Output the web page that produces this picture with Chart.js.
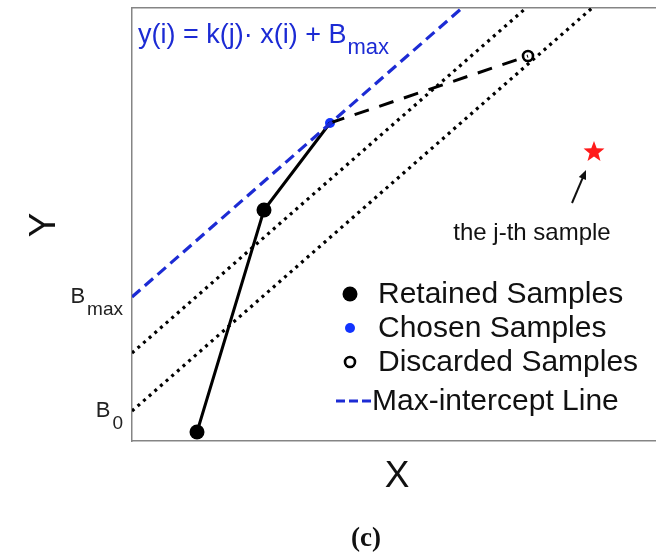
<!DOCTYPE html>
<html>
<head>
<meta charset="utf-8">
<script src="https://cdn.jsdelivr.net/npm/chart.js@4.4.1/dist/chart.umd.min.js"></script>
<style>
  html, body { margin: 0; padding: 0; background: #fff; overflow: hidden; }
  #wrap { width: 656px; height: 554px; position: relative; }
</style>
</head>
<body>
<div id="wrap"><canvas id="c"></canvas></div>
<script>
// ---- data (in plot units) ----
const retainedX = [65, 132];
const retainedY = [9, 231];
const chosenX = [198];
const chosenY = [318];
const discardedX = [396];
const discardedY = [385];
const jthX = [462];
const jthY = [289];
const maxLineX = [0, 330];
const maxLineY = [144, 433];
const boundLine1X = [0, 394];
const boundLine1Y = [88, 433];
const boundLine0X = [0, 460];
const boundLine0Y = [30, 433];
const yTickValues = [144, 30];
const yTickMain = ['B', 'B'];
const yTickSub = ['max', '0'];
const legendLabels = ['Retained Samples', 'Chosen Samples', 'Discarded Samples', 'Max-intercept Line'];
const equationMain = 'y(i) = k(j)\u00B7 x(i) + B';
const equationSub = 'max';
const annotationText = 'the j-th sample';
const arrowFrom = [440, 238];
const arrowTo = [454, 271];
const xTitle = 'X';
const yTitle = 'Y';
const caption = '(c)';

const BLUE = '#1c2bd4';
const BLUE_PT = '#1133ff';
const pts = (xs, ys) => xs.map((x, i) => ({ x, y: ys[i] }));

// filled red star as a point style
function starCanvas(r, color) {
  const c = document.createElement('canvas');
  c.width = c.height = 2 * r + 2;
  const g = c.getContext('2d');
  g.fillStyle = color;
  g.beginPath();
  for (let i = 0; i < 10; i++) {
    const rad = i % 2 === 0 ? r : r * 0.42;
    const a = -Math.PI / 2 + i * Math.PI / 5;
    const px = r + 1 + rad * Math.cos(a), py = r + 1 + rad * Math.sin(a);
    i === 0 ? g.moveTo(px, py) : g.lineTo(px, py);
  }
  g.closePath();
  g.fill();
  return c;
}

const solidPath = pts(retainedX.concat(chosenX), retainedY.concat(chosenY));
const dashedPath = pts(chosenX.concat(discardedX), chosenY.concat(discardedY));

const datasets = [
  { label: 'bound0', data: pts(boundLine0X, boundLine0Y), showLine: true, borderColor: '#000', borderWidth: 3.2, borderDash: [3, 4.5], pointRadius: 0 },
  { label: 'bound1', data: pts(boundLine1X, boundLine1Y), showLine: true, borderColor: '#000', borderWidth: 3.2, borderDash: [3, 4.5], pointRadius: 0 },
  { label: legendLabels[3], data: pts(maxLineX, maxLineY), showLine: true, borderColor: BLUE, borderWidth: 3.2, borderDash: [11, 6], pointRadius: 0 },
  { label: 'path', data: solidPath, showLine: true, borderColor: '#000', borderWidth: 3, pointRadius: 0 },
  { label: 'dashedPath', data: dashedPath, showLine: true, borderColor: '#000', borderWidth: 3, borderDash: [15, 11], pointRadius: 0 },
  { label: legendLabels[0], data: pts(retainedX, retainedY), pointRadius: 7.5, pointBackgroundColor: '#000', pointBorderColor: '#000', pointBorderWidth: 0, showLine: false },
  { label: legendLabels[1], data: pts(chosenX, chosenY), pointRadius: 5, pointBackgroundColor: BLUE_PT, pointBorderColor: BLUE_PT, pointBorderWidth: 0, showLine: false },
  { label: legendLabels[2], data: pts(discardedX, discardedY), pointRadius: 5, pointBackgroundColor: '#fff', pointBorderColor: '#000', pointBorderWidth: 2.6, showLine: false },
  { label: 'jth', data: pts(jthX, jthY), pointStyle: starCanvas(11, '#ff1a1a'), pointRadius: 11, showLine: false }
];

const decor = {
  id: 'decor',
  afterDatasetsDraw(chart) {
    const ctx = chart.ctx;
    const xs = chart.scales.x, ys = chart.scales.y;
    const ca = chart.chartArea;
    ctx.save();
    ctx.textBaseline = 'alphabetic';

    // equation
    ctx.fillStyle = BLUE;
    ctx.font = '27px "Liberation Sans", Arial, sans-serif';
    ctx.textAlign = 'left';
    const ex = ca.left + 6, ey = ca.top + 35;
    ctx.fillText(equationMain, ex, ey);
    const w = ctx.measureText(equationMain).width;
    ctx.font = '22px "Liberation Sans", Arial, sans-serif';
    ctx.fillText(equationSub, ex + w + 1, ey + 11);

    // y tick labels with subscripts
    ctx.fillStyle = '#222';
    yTickValues.forEach((v, i) => {
      const py = ys.getPixelForValue(v);
      const sub = yTickSub[i];
      ctx.font = '19px "Liberation Sans", Arial, sans-serif';
      const sw = ctx.measureText(sub).width;
      ctx.font = '22px "Liberation Sans", Arial, sans-serif';
      const mw = ctx.measureText(yTickMain[i]).width;
      const right = ca.left - 9;
      ctx.textAlign = 'left';
      ctx.fillText(yTickMain[i], right - sw - mw - 2, py + 6);
      ctx.font = '19px "Liberation Sans", Arial, sans-serif';
      ctx.fillText(sub, right - sw, py + 18);
    });

    // annotation text + arrow
    ctx.fillStyle = '#111';
    ctx.font = '24px "Liberation Sans", Arial, sans-serif';
    ctx.textAlign = 'center';
    ctx.fillText(annotationText, xs.getPixelForValue(400), ys.getPixelForValue(209) + 8);
    const ax0 = xs.getPixelForValue(arrowFrom[0]), ay0 = ys.getPixelForValue(arrowFrom[1]);
    const ax1 = xs.getPixelForValue(arrowTo[0]), ay1 = ys.getPixelForValue(arrowTo[1]);
    const ang = Math.atan2(ay1 - ay0, ax1 - ax0);
    ctx.strokeStyle = '#111';
    ctx.lineWidth = 2;
    ctx.beginPath();
    ctx.moveTo(ax0, ay0);
    ctx.lineTo(ax1 - 6 * Math.cos(ang), ay1 - 6 * Math.sin(ang));
    ctx.stroke();
    ctx.beginPath();
    ctx.moveTo(ax1, ay1);
    ctx.lineTo(ax1 - 10 * Math.cos(ang - 0.4), ay1 - 10 * Math.sin(ang - 0.4));
    ctx.lineTo(ax1 - 10 * Math.cos(ang + 0.4), ay1 - 10 * Math.sin(ang + 0.4));
    ctx.closePath();
    ctx.fillStyle = '#111';
    ctx.fill();

    // legend
    const ds = chart.data.datasets;
    const rows = [
      { d: ds[5], y: 294 },
      { d: ds[6], y: 328 },
      { d: ds[7], y: 362 },
      { d: ds[2], y: 401 }
    ];
    const mx = 350, tx = 378;
    rows.forEach((r, i) => {
      const d = r.d;
      if (i < 3) {
        ctx.beginPath();
        ctx.arc(mx, r.y, d.pointRadius, 0, Math.PI * 2);
        ctx.fillStyle = d.pointBackgroundColor;
        ctx.fill();
        if (d.pointBorderWidth) {
          ctx.lineWidth = d.pointBorderWidth;
          ctx.strokeStyle = d.pointBorderColor;
          ctx.stroke();
        }
      } else {
        ctx.save();
        ctx.strokeStyle = d.borderColor;
        ctx.lineWidth = 3;
        ctx.setLineDash([9, 4]);
        ctx.beginPath();
        ctx.moveTo(336, r.y);
        ctx.lineTo(372, r.y);
        ctx.stroke();
        ctx.restore();
      }
      ctx.fillStyle = '#111';
      ctx.font = '30px "Liberation Sans", Arial, sans-serif';
      ctx.textAlign = 'left';
      ctx.textBaseline = 'middle';
      ctx.fillText(d.label, i === 3 ? 372 : tx, r.y + 1);
    });
    ctx.textBaseline = 'alphabetic';

    // axis titles
    ctx.fillStyle = '#111';
    ctx.font = '37px "Liberation Sans", Arial, sans-serif';
    ctx.textAlign = 'center';
    ctx.fillText(xTitle, 397, 487);
    ctx.save();
    ctx.translate(55, 225);
    ctx.rotate(-Math.PI / 2);
    ctx.fillText(yTitle, 0, 0);
    ctx.restore();

    // caption
    ctx.font = 'bold 27px "Liberation Serif", "Times New Roman", serif';
    ctx.fillText(caption, 366, 546);
    ctx.restore();
  }
};

const axisCommon = {
  type: 'linear',
  ticks: { display: false },
  grid: { display: false, drawTicks: false },
  border: { display: true, color: '#858585', width: 1.5 }
};

new Chart(document.getElementById('c'), {
  type: 'scatter',
  data: { datasets },
  options: {
    animation: false,
    responsive: true,
    maintainAspectRatio: false,
    layout: { autoPadding: false, padding: { left: 132, top: 8, right: 0, bottom: 113 } },
    plugins: { legend: { display: false }, tooltip: { enabled: false } },
    scales: {
      x: Object.assign({}, axisCommon, { min: 0, max: 524, position: 'bottom', afterFit: s => { s.height = 0; } }),
      xTop: Object.assign({}, axisCommon, { axis: 'x', min: 0, max: 524, position: 'top', afterFit: s => { s.height = 0; } }),
      y: Object.assign({}, axisCommon, { min: 0, max: 433, position: 'left', afterFit: s => { s.width = 0; } })
    }
  },
  plugins: [decor]
});
</script>
</body>
</html>
